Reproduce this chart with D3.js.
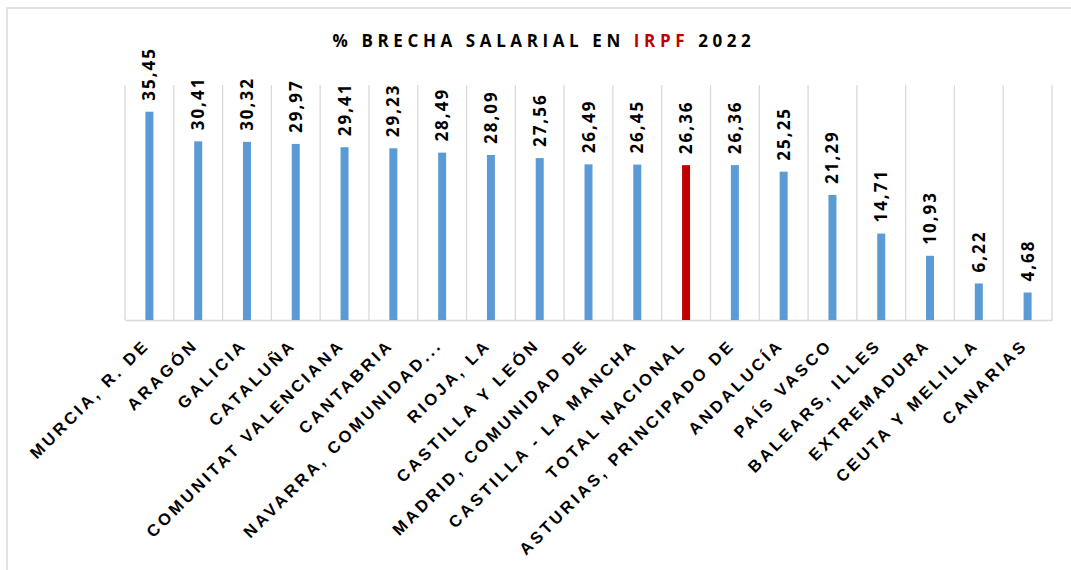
<!DOCTYPE html>
<html>
<head>
<meta charset="utf-8">
<script src="https://cdn.jsdelivr.net/npm/d3@7"></script>
<style>
  body { margin: 0; background: #fff; }
  svg { display: block; font-family: "Open Sans", sans-serif; }
</style>
</head>
<body>
<svg id="chart" width="1071" height="570"></svg>
<script>
// categories and values
const regions = [
  "MURCIA, R. DE", "ARAGÓN", "GALICIA", "CATALUÑA", "COMUNITAT VALENCIANA",
  "CANTABRIA", "NAVARRA, COMUNIDAD...", "RIOJA, LA", "CASTILLA Y LEÓN",
  "MADRID, COMUNIDAD DE", "CASTILLA - LA MANCHA", "TOTAL NACIONAL",
  "ASTURIAS, PRINCIPADO DE", "ANDALUCÍA", "PAÍS VASCO", "BALEARS, ILLES",
  "EXTREMADURA", "CEUTA Y MELILLA", "CANARIAS"
]
const brecha = [35.45, 30.41, 30.32, 29.97, 29.41, 29.23, 28.49, 28.09, 27.56,
  26.49, 26.45, 26.36, 26.36, 25.25, 21.29, 14.71, 10.93, 6.22, 4.68]
const highlight = "TOTAL NACIONAL"

const blue = "#5b9bd5"
const red = "#c00000"
const gridColor = "#d9d9d9"

const svg = d3.select("#chart")

// outer chart border (only top and left visible in the picture)
svg.append("rect")
  .attr("x", 7).attr("y", 8)
  .attr("width", 1080).attr("height", 580)
  .attr("fill", "none")
  .attr("stroke", gridColor)
  .attr("stroke-width", 1.5)

const plotLeft = 125, plotRight = 1052, plotTop = 85, plotBottom = 320

const x = d3.scaleBand().domain(regions).range([plotLeft, plotRight])
const y = d3.scaleLinear().domain([0, 40]).range([plotBottom, plotTop])

// vertical category gridlines
const edges = regions.map(r => x(r)).concat([plotRight])
svg.append("g").selectAll("line")
  .data(edges)
  .join("line")
  .attr("x1", d => d).attr("x2", d => d)
  .attr("y1", plotTop).attr("y2", plotBottom)
  .attr("stroke", gridColor)
  .attr("stroke-width", 1.3)

// category axis
const xAxis = svg.append("g")
  .attr("transform", `translate(0,${plotBottom})`)
  .call(d3.axisBottom(x).tickSize(0).tickPadding(0))
xAxis.select(".domain").attr("stroke", gridColor).attr("stroke-width", 1.5)
xAxis.selectAll("text")
  .attr("transform", "translate(-3,22) rotate(-45)")
  .attr("y", 0)
  .attr("dy", "0.35em")
  .attr("text-anchor", "end")
  .attr("font-size", 16.5)
  .attr("font-weight", 700)
  .attr("letter-spacing", 3.2)
  .attr("fill", "#000")

// bars
const barW = 8
svg.append("g").selectAll("rect")
  .data(brecha)
  .join("rect")
  .attr("x", (d, i) => x(regions[i]) + x.bandwidth() / 2 - barW / 2)
  .attr("width", barW)
  .attr("y", d => y(d))
  .attr("height", d => y(0) - y(d))
  .attr("fill", (d, i) => regions[i] === highlight ? red : blue)

// value labels, rotated
svg.append("g").selectAll("text")
  .data(brecha)
  .join("text")
  .attr("transform", (d, i) => `translate(${x(regions[i]) + x.bandwidth() / 2 + 6},${y(d) - 11}) rotate(-90)`)
  .attr("font-size", 17)
  .attr("font-weight", 700)
  .attr("letter-spacing", 2)
  .attr("fill", "#000")
  .text(d => d.toFixed(2).replace(".", ","))

// title
const title = svg.append("text")
  .attr("x", 544).attr("y", 47)
  .attr("text-anchor", "middle")
  .attr("font-size", 17)
  .attr("font-weight", 700)
  .attr("letter-spacing", 4.6)
  .attr("fill", "#000")
title.append("tspan").text("% BRECHA SALARIAL EN ")
title.append("tspan").attr("fill", red).text("IRPF")
title.append("tspan").text(" 2022")
</script>
</body>
</html>
